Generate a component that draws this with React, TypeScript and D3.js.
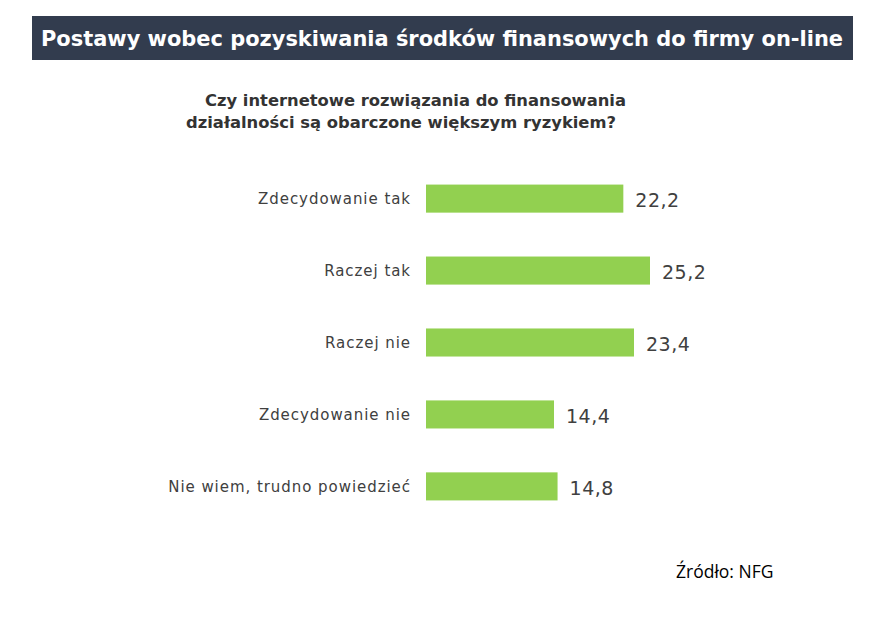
import { useEffect, useRef } from "react";
import * as d3 from "d3";

const categories = [
	"Zdecydowanie tak",
	"Raczej tak",
	"Raczej nie",
	"Zdecydowanie nie",
	"Nie wiem, trudno powiedzieć",
];
const values = [22.2, 25.2, 23.4, 14.4, 14.8];

const titleText = "Postawy wobec pozyskiwania środków finansowych do firmy on-line";
const subtitleLines = [
	"Czy internetowe rozwiązania do finansowania",
	"działalności są obarczone większym ryzykiem?",
];
const sourceText = "Źródło: NFG";

const W = 888;
const H = 619;

export default function App() {
	const ref = useRef<SVGSVGElement>(null);

	useEffect(() => {
		const svg = d3.select(ref.current);
		svg.selectAll("*").remove();

		svg.append("rect").attr("width", W).attr("height", H).attr("fill", "#ffffff");

		// Title banner
		svg.append("rect")
			.attr("x", 32)
			.attr("y", 16)
			.attr("width", 821)
			.attr("height", 44)
			.attr("fill", "#323c4e");

		svg.append("text")
			.attr("x", 41)
			.attr("y", 46)
			.attr("fill", "#ffffff")
			.attr("font-family", "'DejaVu Sans', sans-serif")
			.attr("font-weight", "bold")
			.attr("font-size", "21px")
			.attr("textLength", 802)
			.attr("lengthAdjust", "spacingAndGlyphs")
			.text(titleText);

		// Subtitle
		const subX = [205, 186];
		const subW = [421, 430];
		subtitleLines.forEach((line, i) => {
			svg.append("text")
				.attr("x", subX[i])
				.attr("y", 106 + i * 22)
				.attr("fill", "#333333")
				.attr("font-family", "'DejaVu Sans', sans-serif")
				.attr("font-weight", "bold")
				.attr("font-size", "16px")
				.attr("textLength", subW[i])
				.attr("lengthAdjust", "spacingAndGlyphs")
				.text(line);
		});

		// Bars
		const x = d3.scaleLinear().domain([0, 25.2]).range([426, 650]);
		const y = d3.scaleBand<string>()
			.domain(categories)
			.range([163, 522])
			.paddingInner(0.61)
			.paddingOuter(0.3);

		const g = svg.append("g");

		g.selectAll(".bar")
			.data(categories)
			.enter()
			.append("rect")
			.attr("class", "bar")
			.attr("x", x(0))
			.attr("y", d => y(d)!)
			.attr("width", (d, i) => x(values[i]) - x(0))
			.attr("height", y.bandwidth())
			.attr("fill", "#92d050");

		// category labels, spaced out a bit to match the wide original face
		g.selectAll(".cat")
			.data(categories)
			.enter()
			.append("text")
			.attr("class", "cat")
			.attr("x", 411)
			.attr("y", d => y(d)! + y.bandwidth() / 2)
			.attr("dy", "0.35em")
			.attr("text-anchor", "end")
			.attr("fill", "#404040")
			.attr("font-family", "'DejaVu Sans', sans-serif")
			.attr("font-size", "15px")
			.attr("letter-spacing", "0.95px")
			.text(d => d);

		g.selectAll(".val")
			.data(categories)
			.enter()
			.append("text")
			.attr("class", "val")
			.attr("x", (d, i) => x(values[i]) + 12)
			.attr("y", d => y(d)! + y.bandwidth() / 2 + 2)
			.attr("dy", "0.35em")
			.attr("fill", "#404040")
			.attr("font-family", "'DejaVu Sans', sans-serif")
			.attr("font-size", "19px")
			.attr("letter-spacing", "0.5px")
			.text((d, i) => d3.format(".1f")(values[i]).replace(".", ","));

		// Source
		svg.append("text")
			.attr("x", 676)
			.attr("y", 578)
			.attr("fill", "#000000")
			.attr("font-family", "'Open Sans', sans-serif")
			.attr("font-size", "17.5px")
			.text(sourceText);
	}, []);

	return (
		<svg
			ref={ref}
			width={W}
			height={H}
			style={{ position: "absolute", left: 0, top: 0, display: "block" }}
		/>
	);
}
